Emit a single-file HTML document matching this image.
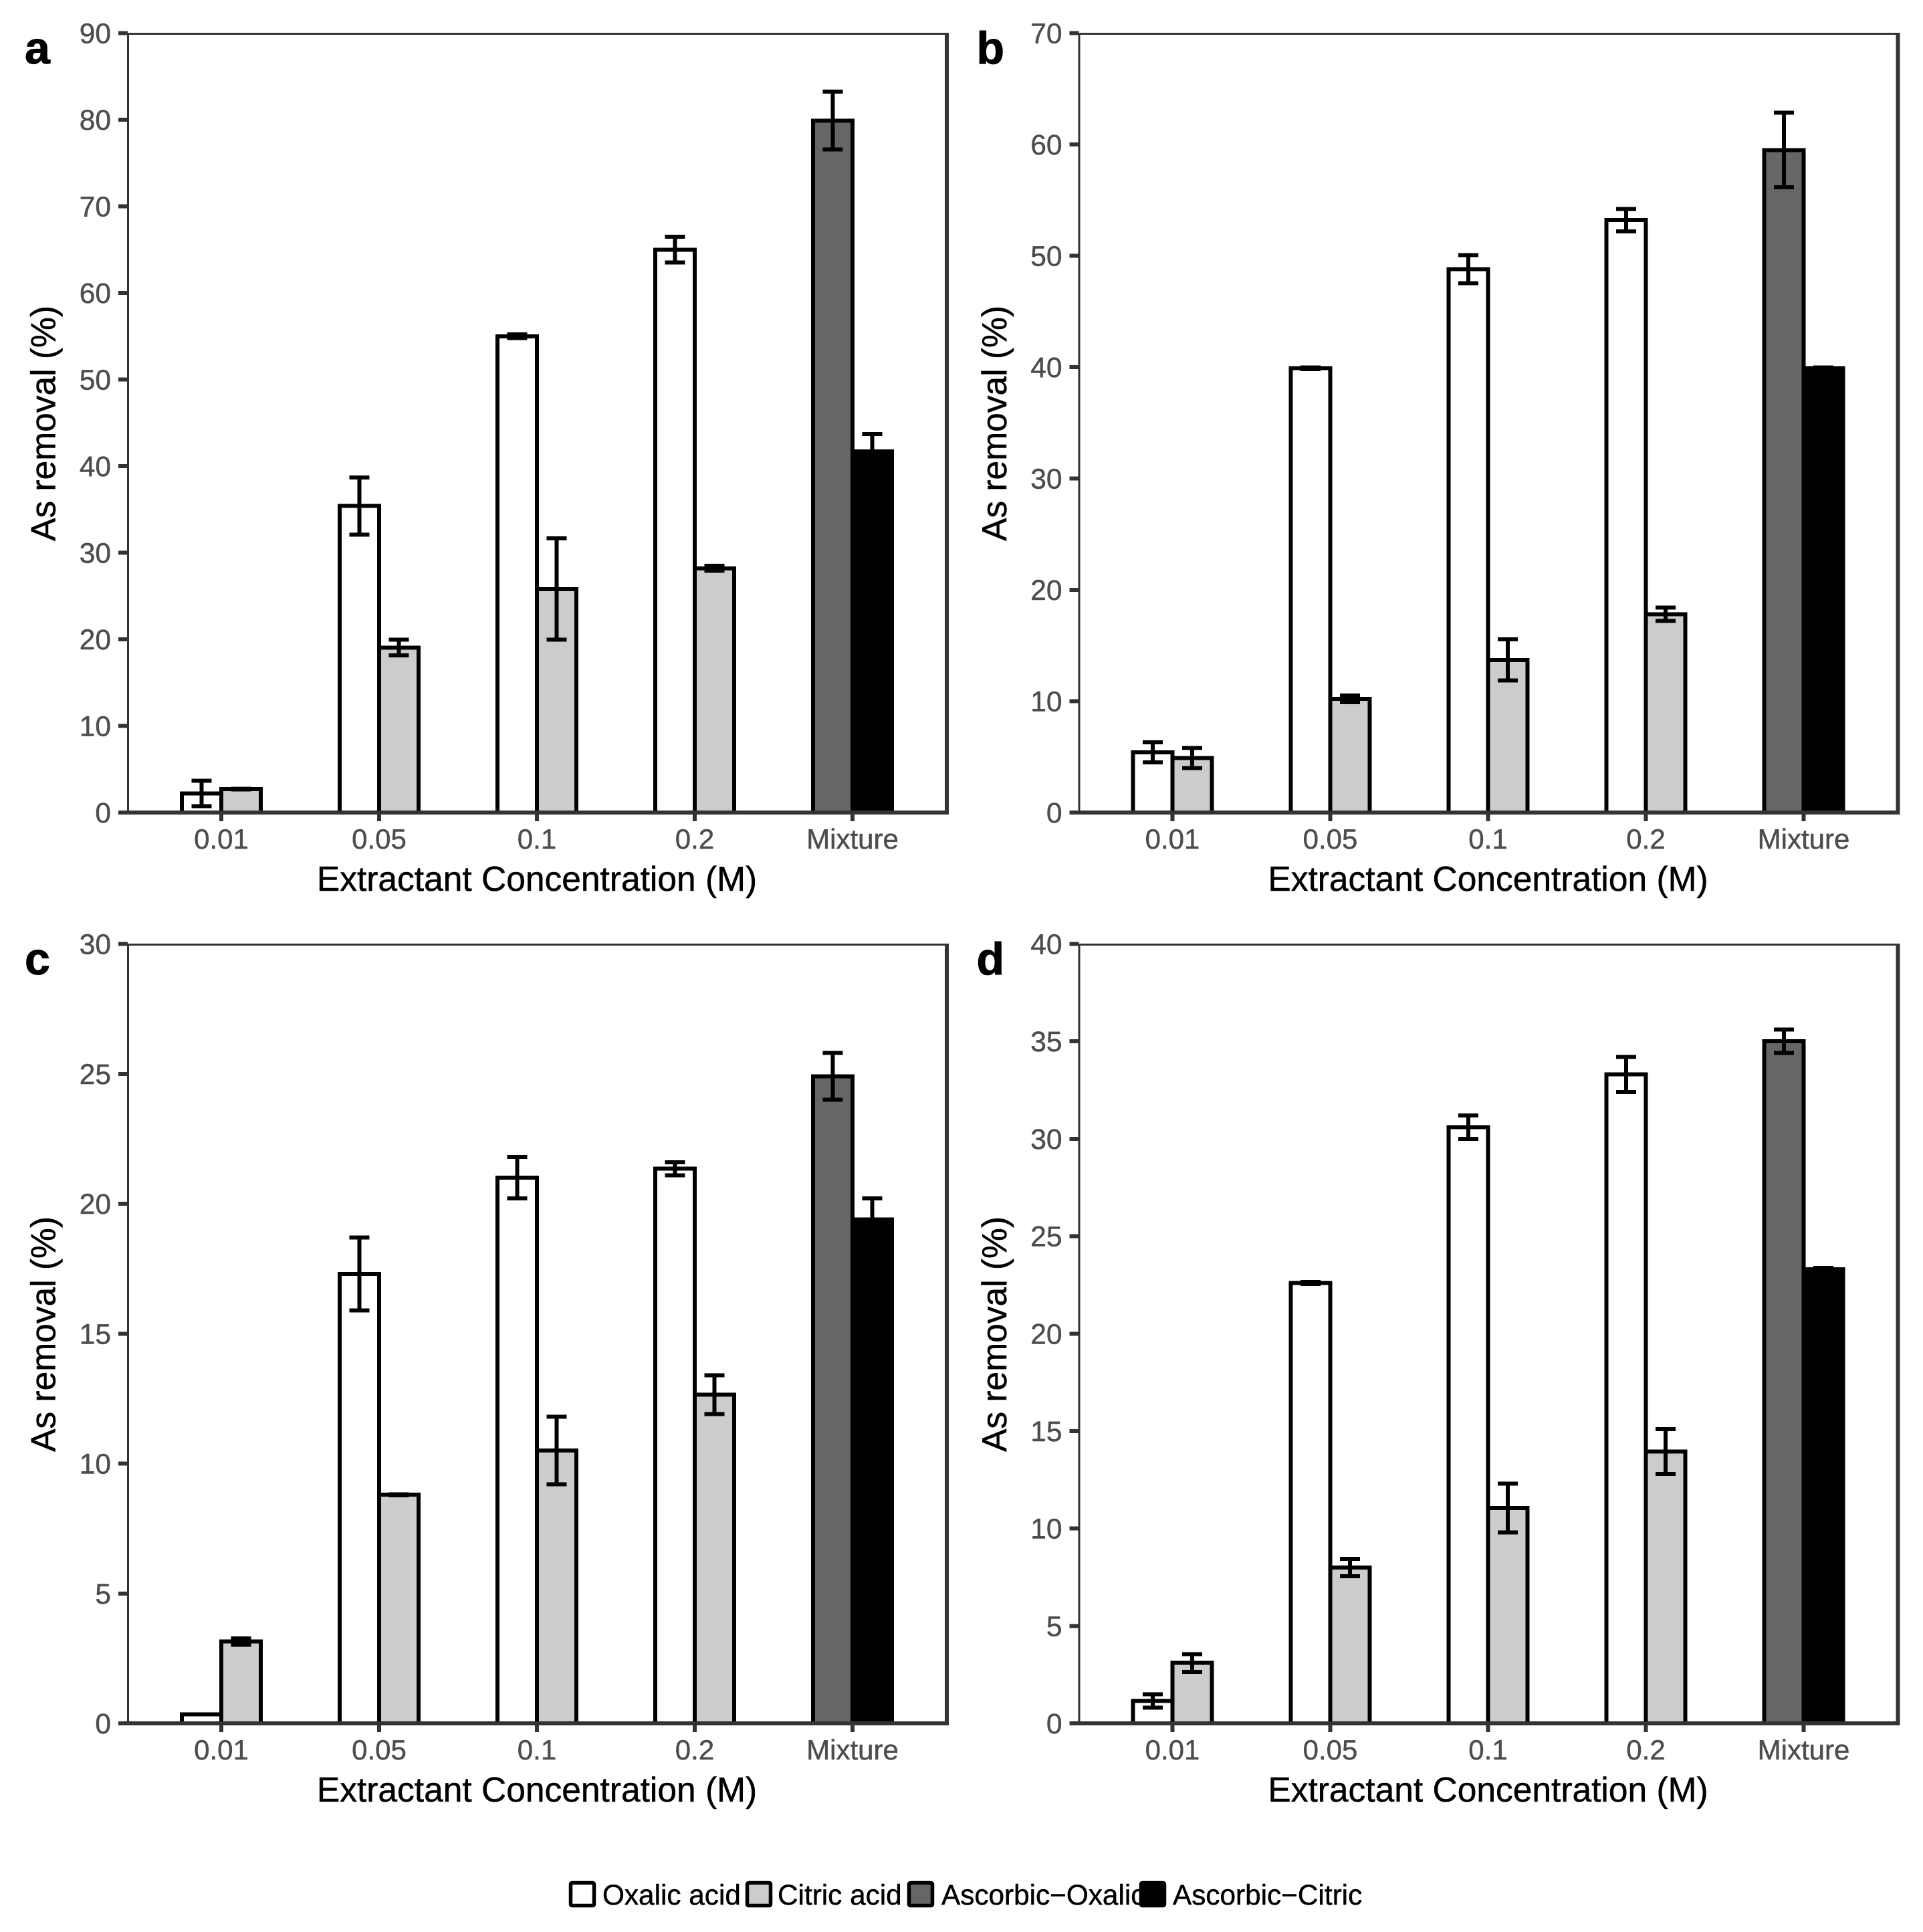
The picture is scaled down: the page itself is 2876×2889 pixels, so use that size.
<!DOCTYPE html>
<html lang="en">
<head>
<meta charset="utf-8">
<title>As removal by extractant concentration</title>
<style>
html,body{margin:0;padding:0;background:#fff;}
svg{display:block;font-family:"Liberation Sans",Arial,sans-serif;}
</style>
</head>
<body>
<svg id="chart" xmlns="http://www.w3.org/2000/svg" width="2876" height="2889" viewBox="0 0 2876 2889"></svg>
<script>
const categories = ['0.01','0.05','0.1','0.2','Mixture'];
const seriesNames = ['Oxalic acid','Citric acid','Ascorbic\u2212Oxalic','Ascorbic\u2212Citric'];
const seriesColors = ['#ffffff','#cccccc','#666666','#000000'];

const aTicks = [0,10,20,30,40,50,60,70,80,90];
const aOxalic = [2.2,35.4,55,65,null];
const aOxalicErr = [1.45,3.3,0.2,1.5,null];
const aCitric = [2.7,19.05,25.8,28.2,null];
const aCitricErr = [0.05,0.9,5.85,0.3,null];
const aAscOx = [null,null,null,null,79.9];
const aAscOxErr = [null,null,null,null,3.35];
const aAscCit = [null,null,null,null,41.7];
const aAscCitErr = [null,null,null,null,2];

const bTicks = [0,10,20,30,40,50,60,70];
const bOxalic = [5.4,39.9,48.8,53.2,null];
const bOxalicErr = [0.9,0.08,1.25,1,null];
const bCitric = [4.9,10.2,13.7,17.8,null];
const bCitricErr = [0.9,0.3,1.85,0.6,null];
const bAscOx = [null,null,null,null,59.5];
const bAscOxErr = [null,null,null,null,3.35];
const bAscCit = [null,null,null,null,39.9];
const bAscCitErr = [null,null,null,null,0.06];

const cTicks = [0,5,10,15,20,25,30];
const cOxalic = [0.35,17.3,21,21.35,null];
const cOxalicErr = [0,1.4,0.8,0.25,null];
const cCitric = [3.15,8.8,10.5,12.65,null];
const cCitricErr = [0.12,0.02,1.3,0.75,null];
const cAscOx = [null,null,null,null,24.9];
const cAscOxErr = [null,null,null,null,0.9];
const cAscCit = [null,null,null,null,19.4];
const cAscCitErr = [null,null,null,null,0.8];

const dTicks = [0,5,10,15,20,25,30,35,40];
const dOxalic = [1.15,22.6,30.6,33.3,null];
const dOxalicErr = [0.35,0.05,0.6,0.9,null];
const dCitric = [3.1,8,11.05,13.95,null];
const dCitricErr = [0.45,0.45,1.25,1.15,null];
const dAscOx = [null,null,null,null,35];
const dAscOxErr = [null,null,null,null,0.6];
const dAscCit = [null,null,null,null,23.3];
const dAscCitErr = [null,null,null,null,0.08];

const panels = [
  {id:'a', dx:0, dy:0, ticks:aTicks, vals:[aOxalic,aCitric,aAscOx,aAscCit], errs:[aOxalicErr,aCitricErr,aAscOxErr,aAscCitErr]},
  {id:'b', dx:1422.5, dy:0, ticks:bTicks, vals:[bOxalic,bCitric,bAscOx,bAscCit], errs:[bOxalicErr,bCitricErr,bAscOxErr,bAscCitErr]},
  {id:'c', dx:0, dy:1362, ticks:cTicks, vals:[cOxalic,cCitric,cAscOx,cAscCit], errs:[cOxalicErr,cCitricErr,cAscOxErr,cAscCitErr]},
  {id:'d', dx:1422.5, dy:1362, ticks:dTicks, vals:[dOxalic,dCitric,dAscOx,dAscCit], errs:[dOxalicErr,dCitricErr,dAscOxErr,dAscCitErr]}
];

const NS = 'http://www.w3.org/2000/svg';
const svg = document.getElementById('chart');
const AXIS = '#333333';

function make(tag, parent, props){
  const el = document.createElementNS(NS, tag);
  for (const k in props) el.setAttribute(k, props[k]);
  parent.appendChild(el);
  return el;
}

const Y_TOP = 49.5, Y_ZERO = 1215, X_FIRST = 331, X_STEP = 236, BAR_W = 59;

function xCenter(p, i){ return p.dx + X_FIRST + i * X_STEP; }
function yScale(p, v){
  const max = p.ticks[p.ticks.length - 1];
  return p.dy + Y_ZERO - (v / max) * (Y_ZERO - Y_TOP);
}
function barLeft(p, catIndex, seriesIndex){
  const slot = seriesIndex % 2;
  return xCenter(p, catIndex) + (slot - 1) * BAR_W;
}

function drawPanel(p){
  const g = make('g', svg, {});
  
  

  // bars
  p.vals.forEach(function(series, s){
    series.forEach(function(v, c){
      if (v === null) return;
      const x = barLeft(p, c, s);
      const y = yScale(p, v);
      const bar = make('rect', g, {x:x, y:y, width:BAR_W, height:p.dy + Y_ZERO - y, fill:seriesColors[s], stroke:'#000', 'stroke-width':6, 'shape-rendering':'crispEdges'});
      
      
    });
  });

  // error bars
  p.vals.forEach(function(series, s){
    series.forEach(function(v, c){
      if (v === null) return;
      const e = p.errs[s][c];
      if (!e) return;
      const cx = barLeft(p, c, s) + BAR_W / 2;
      const top = yScale(p, v + e);
      const bot = yScale(p, v - e);
      const err = make('path', g, {d:'M' + (cx - 15) + ' ' + top + 'H' + (cx + 15) + 'M' + cx + ' ' + top + 'V' + bot + 'M' + (cx - 15) + ' ' + bot + 'H' + (cx + 15), fill:'none', stroke:'#000', 'stroke-width':6, 'shape-rendering':'crispEdges'});
      
      
    });
  });

  // panel border
  const yT = p.dy + 49, yB = p.dy + 1215, xL = p.dx + 190, xR = p.dx + 1416;
  const borderTop = make('rect', g, {x:xL, y:yT, width:xR - xL + 3, height:3, fill:AXIS, 'shape-rendering':'crispEdges'});
  
  
  const borderLeft = make('rect', g, {x:xL, y:yT, width:3, height:yB - yT, fill:AXIS, 'shape-rendering':'crispEdges'});
  
  
  const borderRight = make('rect', g, {x:xR - 3, y:yT, width:6, height:yB - yT + 3, fill:AXIS, 'shape-rendering':'crispEdges'});
  
  
  const borderBottom = make('rect', g, {x:xL, y:yB - 3, width:xR - xL + 3, height:6, fill:AXIS, 'shape-rendering':'crispEdges'});
  
  

  // y ticks
  p.ticks.forEach(function(t){
    const y = yScale(p, t);
    const tick = make('rect', g, {x:p.dx + 177, y:y - 3, width:14, height:6, fill:AXIS, 'shape-rendering':'crispEdges'});
    
    
    const label = make('text', g, {x:p.dx + 166, y:y + 15, 'text-anchor':'end', 'font-size':42.5, fill:'#4d4d4d', stroke:'#4d4d4d', 'stroke-width':0.5});
    
    
    label.textContent = t;
  });

  // x ticks
  categories.forEach(function(cat, i){
    const x = xCenter(p, i);
    const tick = make('rect', g, {x:x - 3, y:p.dy + 1218, width:6, height:10, fill:AXIS, 'shape-rendering':'crispEdges'});
    
    
    const label = make('text', g, {x:x, y:p.dy + 1269, 'text-anchor':'middle', 'font-size':42, fill:'#4d4d4d', stroke:'#4d4d4d', 'stroke-width':0.5});
    
    
    label.textContent = cat;
  });

  // axis titles
  const xTitle = make('text', g, {x:p.dx + 803, y:p.dy + 1332, 'text-anchor':'middle', 'font-size':51.5, fill:'#000', stroke:'#000', 'stroke-width':0.5});
  
  
  xTitle.textContent = 'Extractant Concentration (M)';

  const cy = p.dy + 633, bx = p.dx + 82.5;
  const yTitle = make('text', g, {x:bx, y:cy, transform:'rotate(-90 ' + bx + ' ' + cy + ')', 'text-anchor':'middle', 'font-size':51.5, fill:'#000', stroke:'#000', 'stroke-width':0.5});
  
  
  yTitle.textContent = 'As removal (%)';

  // panel letter
  const letter = make('text', g, {x:p.dx + (p.dx > 0 ? 38 : 37), y:p.dy + 95, 'font-size':68, 'font-weight':'bold', fill:'#000', stroke:'#000', 'stroke-width':1});
  
  
  letter.textContent = p.id;
}

panels.forEach(drawPanel);

// legend
const legendKeyLeft = [853.5,1117.5,1359.5,1706.5];
const legendTextLeft = [901,1163,1408,1754];
const legend = make('g', svg, {});


seriesNames.forEach(function(name, i){
  const key = make('rect', legend, {x:legendKeyLeft[i], y:2815.5, width:35, height:34, fill:seriesColors[i], stroke:'#000', 'stroke-width':5.5, rx:2});
  
  
  const label = make('text', legend, {x:legendTextLeft[i], y:2848, 'font-size':42.3, fill:'#000', stroke:'#000', 'stroke-width':0.5});
  
  
  label.textContent = name;
});
</script>
</body>
</html>
